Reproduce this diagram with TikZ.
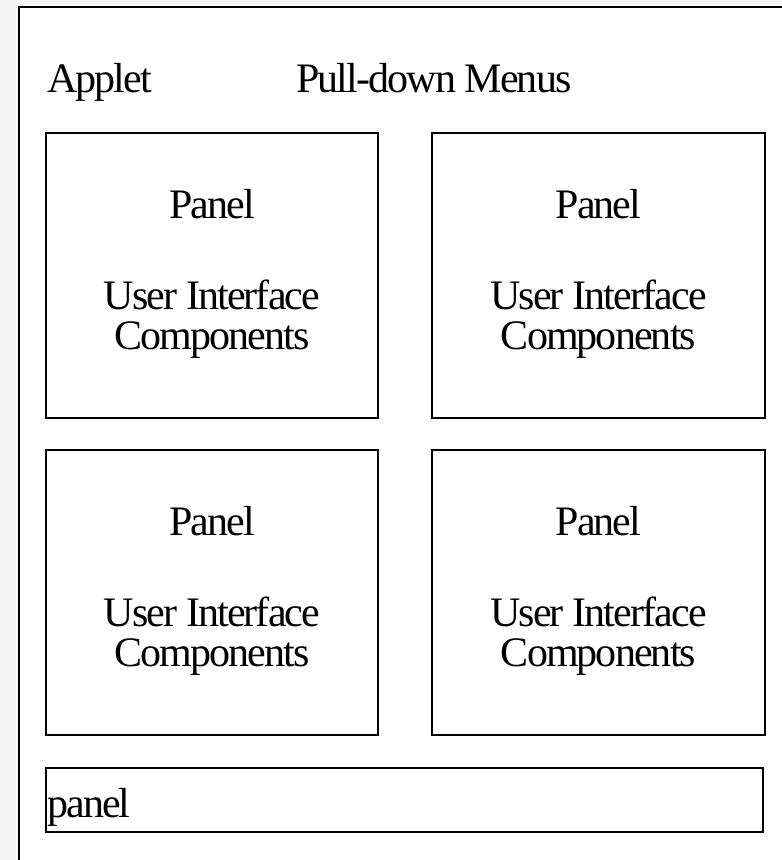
\documentclass[tikz,border=0pt]{standalone}
\usepackage{fontspec}
\setmainfont[LetterSpace=-4.5]{Liberation Serif}
\definecolor{pagebg}{RGB}{245,245,245}
\begin{document}
\begin{tikzpicture}[x=1pt,y=-1pt,
  panelbox/.style={draw=black,line width=2pt,fill=white,inner sep=0pt},
  lbl/.style={anchor=base,inner sep=0pt,font=\fontsize{42}{40}\selectfont},
  lbll/.style={anchor=base west,inner sep=0pt,font=\fontsize{42}{40}\selectfont}]
\useasboundingbox (0,0) rectangle (782,860);
\fill[pagebg] (0,0) rectangle (782,860);
\draw[line width=2.7pt,fill=white] (19,7) rectangle (786,866);
\node[lbll] (applet) at (47,92) {Applet};
\node[lbll] (menus) at (296,92) {Pull-down Menus};
% boxes
\foreach \n/\xa/\xb/\ya/\yb in {p1/46/378/133/418, p2/432/765/133/418, p3/46/378/450/735, p4/432/765/450/735}{
  \draw[panelbox] (\xa,\ya) rectangle (\xb,\yb);
  \path (\xa,\ya) -- (\xb,\ya) coordinate[pos=0.5] (\n top);
  \node[lbl] (\n title) at ([yshift=-85pt]\n top) {Panel};
  \node[lbl] (\n ui) at ([yshift=-176pt]\n top) {User Interface};
  \node[lbl] (\n comp) at ([yshift=-216pt]\n top) {Components};
}
\draw[panelbox] (46,768) rectangle (763,832);
\node[lbll] (bottompanel) at (47,817) {panel};
\end{tikzpicture}
\end{document}
